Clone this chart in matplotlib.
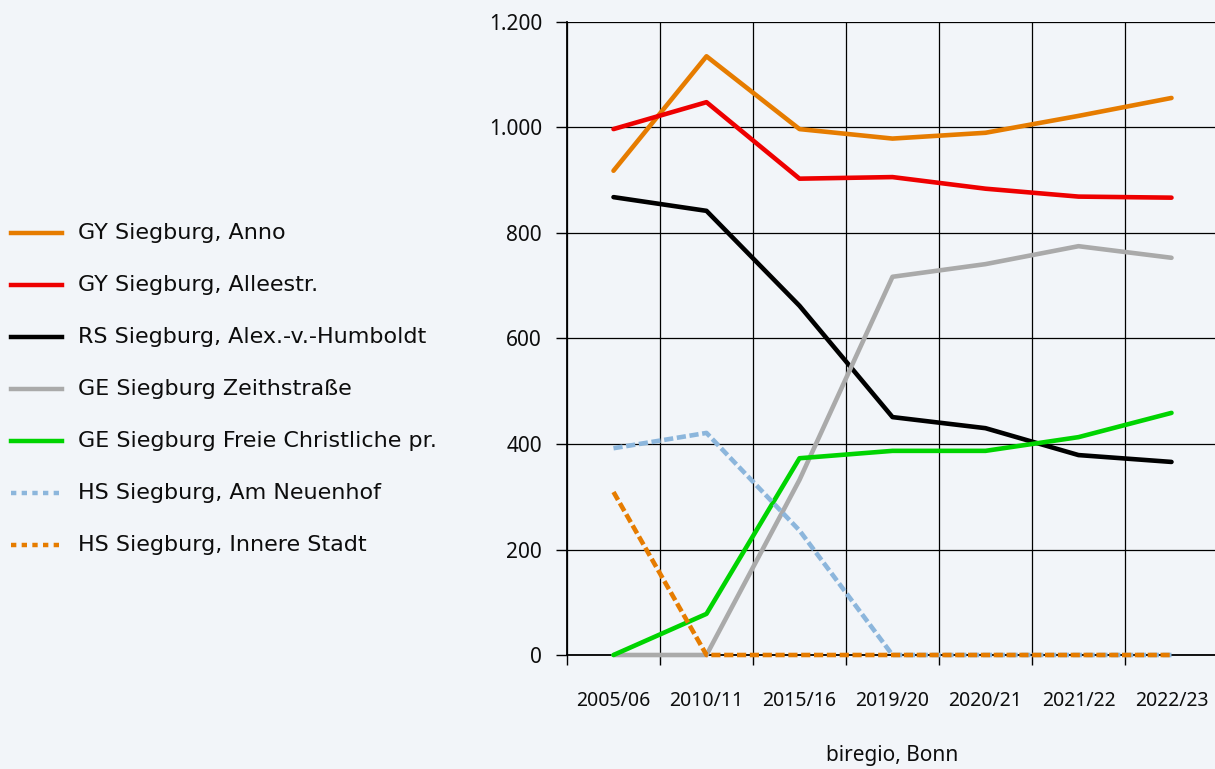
import matplotlib.pyplot as plt
from matplotlib.lines import Line2D
from matplotlib.ticker import FixedLocator, FuncFormatter

plt.rcParams['font.family'] = ['Noto Sans', 'DejaVu Sans']

# school years and pupil counts per school
years = ['2005/06', '2010/11', '2015/16', '2019/20', '2020/21', '2021/22', '2022/23']
gy_anno = [918, 1135, 997, 979, 990, 1022, 1056]
gy_allee = [997, 1048, 903, 906, 884, 869, 867]
rs_humboldt = [868, 842, 662, 451, 430, 379, 366]
ge_zeith = [0, 0, 332, 717, 741, 775, 753]
ge_freie = [0, 78, 373, 387, 387, 413, 459]
hs_neuenhof = [392, 421, 236, 0, 0, 0, 0]
hs_innere = [309, 0, 0, 0, 0, 0, 0]

names = ['GY Siegburg, Anno', 'GY Siegburg, Alleestr.', 'RS Siegburg, Alex.-v.-Humboldt',
         'GE Siegburg Zeithstraße', 'GE Siegburg Freie Christliche pr.',
         'HS Siegburg, Am Neuenhof', 'HS Siegburg, Innere Stadt']
series = [gy_anno, gy_allee, rs_humboldt, ge_zeith, ge_freie, hs_neuenhof, hs_innere]
colors = ['#e67c00', '#ee0000', '#000000', '#aaaaaa', '#00d400', '#8cb6dc', '#e67c00']
dashed = [False, False, False, False, False, True, True]

bg = '#f2f5f9'
txt = '#0d0d0d'
fig = plt.figure(figsize=(12.15, 7.69), dpi=100, facecolor=bg)
ax = fig.add_axes([567 / 1215, 1 - 655 / 769, 651 / 1215, 633 / 769])
ax.set_facecolor(bg)

x = list(range(len(years)))
for vals, c, d in zip(series, colors, dashed):
    if d:
        ax.plot(x, vals, color=c, lw=3.3, dashes=(2.0, 0.8), dash_capstyle='butt',
                dash_joinstyle='round', zorder=3, clip_on=False)
    else:
        ax.plot(x, vals, color=c, lw=3.3, solid_capstyle='round',
                solid_joinstyle='round', zorder=3, clip_on=False)

ax.set_xlim(-0.5, len(years) - 0.5)
ax.set_ylim(0, 1200)
ax.set_xticks(x)
ax.set_xticklabels(years, fontsize=14, color=txt)
ax.xaxis.set_minor_locator(FixedLocator([i - 0.5 for i in range(len(years) + 1)]))
ax.tick_params(axis='x', which='major', length=0, pad=26)
ax.tick_params(axis='x', which='minor', length=7, width=1, color='black')
ax.set_yticks(range(0, 1201, 200))
ax.yaxis.set_major_formatter(FuncFormatter(lambda v, p: f'{int(v):,}'.replace(',', '.')))
ax.tick_params(axis='y', length=8, width=1, pad=10, labelsize=15, labelcolor=txt)

ax.grid(axis='y', which='major', color='black', lw=0.9)
ax.grid(axis='x', which='minor', color='black', lw=0.9)
ax.set_axisbelow(True)
for s in ['top', 'right']:
    ax.spines[s].set_visible(False)
ax.spines['left'].set_linewidth(1.3)
ax.spines['bottom'].set_linewidth(1.3)

fig.text(892 / 1215, 1 - 756 / 769, 'biregio, Bonn', ha='center', va='center',
         fontsize=15, color=txt)

# legend on the left
for i, (n, c, d) in enumerate(zip(names, colors, dashed)):
    yy = 1 - (233 + i * 52) / 769
    if d:
        ln = Line2D([11 / 1215, 60 / 1215], [yy, yy], color=c, lw=3.2, dashes=(1.2, 1.2),
                    dash_capstyle='butt', transform=fig.transFigure)
    else:
        ln = Line2D([11 / 1215, 62 / 1215], [yy, yy], color=c, lw=3.2,
                    transform=fig.transFigure)
    fig.add_artist(ln)
    fig.text(78 / 1215, yy, n, ha='left', va='center', fontsize=16,
             family=['DejaVu Sans'], color=txt)

fig.savefig('out.png', dpi=100, facecolor=bg)
